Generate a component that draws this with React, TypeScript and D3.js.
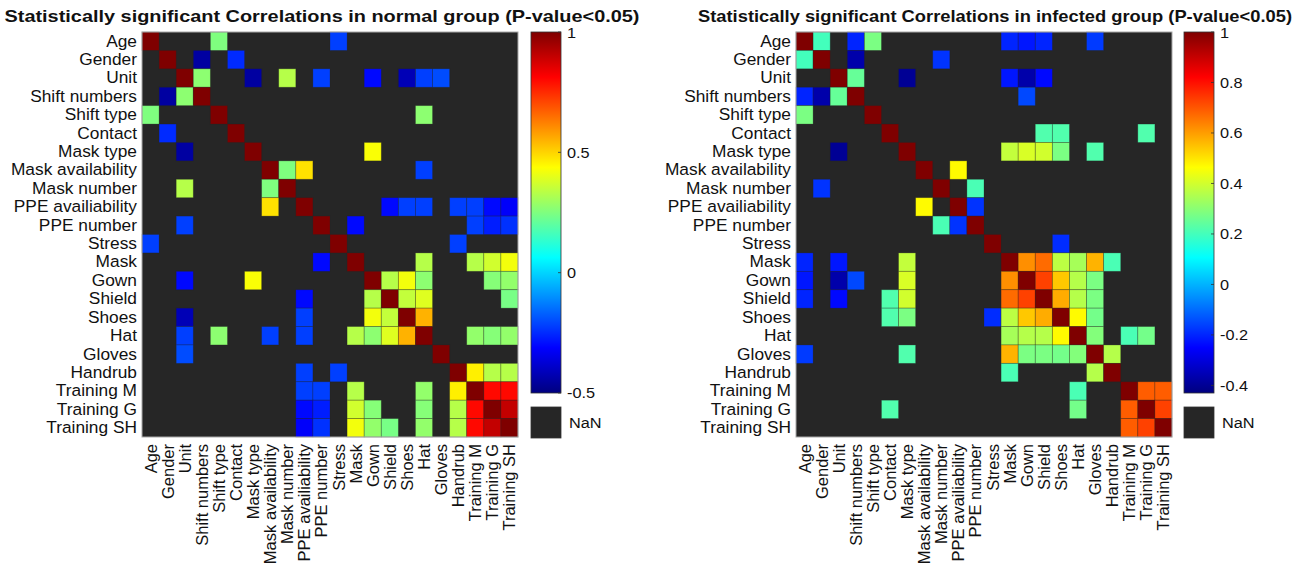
import * as d3 from "d3";

// variable names, same order on both axes
const labels = [
  "Age", "Gender", "Unit", "Shift numbers", "Shift type", "Contact", "Mask type",
  "Mask availability", "Mask number", "PPE availiability", "PPE number", "Stress",
  "Mask", "Gown", "Shield", "Shoes", "Hat", "Gloves", "Handrub",
  "Training M", "Training G", "Training SH",
];

// significant correlations, upper triangle [row, col, r]; matrix is symmetric, diagonal = 1
const normalPairs: [number, number, number][] = [
  [0, 4, 0.25], [0, 11, -0.22],
  [1, 3, -0.45], [1, 5, -0.25],
  [2, 3, 0.27], [2, 6, -0.45], [2, 8, 0.33], [2, 10, -0.22], [2, 13, -0.3],
  [2, 15, -0.42], [2, 16, -0.22], [2, 17, -0.2],
  [4, 16, 0.27],
  [6, 13, 0.43],
  [7, 8, 0.25], [7, 9, 0.48], [7, 16, -0.22],
  [9, 14, -0.3], [9, 15, -0.22], [9, 16, -0.22], [9, 18, -0.22], [9, 19, -0.22],
  [9, 20, -0.3], [9, 21, -0.32],
  [10, 12, -0.3], [10, 19, -0.22], [10, 20, -0.27], [10, 21, -0.24],
  [11, 18, -0.22],
  [12, 16, 0.33], [12, 19, 0.33], [12, 20, 0.37], [12, 21, 0.42],
  [13, 14, 0.33], [13, 15, 0.42], [13, 16, 0.27], [13, 20, 0.26], [13, 21, 0.28],
  [14, 15, 0.35], [14, 16, 0.39], [14, 21, 0.24],
  [15, 16, 0.55],
  [16, 19, 0.28], [16, 20, 0.26], [16, 21, 0.28],
  [18, 19, 0.46], [18, 20, 0.33], [18, 21, 0.33],
  [19, 20, 0.8], [19, 21, 0.8], [20, 21, 0.9],
];

const infectedPairs: [number, number, number][] = [
  [0, 1, 0.2], [0, 3, -0.2], [0, 4, 0.28], [0, 12, -0.2], [0, 13, -0.22],
  [0, 14, -0.2], [0, 17, -0.17],
  [1, 3, -0.37], [1, 8, -0.18],
  [2, 3, 0.25], [2, 6, -0.4], [2, 12, -0.22], [2, 13, -0.37], [2, 14, -0.24],
  [3, 13, -0.15],
  [5, 14, 0.22], [5, 15, 0.22], [5, 20, 0.22],
  [6, 12, 0.38], [6, 13, 0.41], [6, 14, 0.4], [6, 15, 0.28], [6, 17, 0.22],
  [7, 9, 0.47],
  [8, 10, 0.21],
  [9, 10, -0.18],
  [11, 15, -0.19],
  [12, 13, 0.62], [12, 14, 0.67], [12, 15, 0.37], [12, 16, 0.34], [12, 17, 0.57],
  [12, 18, 0.21],
  [13, 14, 0.73], [13, 15, 0.54], [13, 16, 0.36], [13, 17, 0.28],
  [14, 15, 0.58], [14, 16, 0.36], [14, 17, 0.28],
  [15, 16, 0.47], [15, 17, 0.27],
  [16, 17, 0.29], [16, 19, 0.21], [16, 20, 0.27],
  [17, 18, 0.36],
  [19, 20, 0.69], [19, 21, 0.69],
  [20, 21, 0.73],
];

const normalTicks = [-0.5, 0, 0.5, 1];
const infectedTicks = [-0.4, -0.2, 0, 0.2, 0.4, 0.6, 0.8, 1];

const normalTitle = "Statistically significant Correlations in normal group (P-value<0.05)";
const infectedTitle = "Statistically significant Correlations in infected group (P-value<0.05)";

// MATLAB jet
const jetStops = ["#00007f", "#0000ff", "#007fff", "#00ffff", "#7fff7f", "#ffff00", "#ff7f00", "#ff0000", "#7f0000"];
const jet = d3.piecewise(d3.interpolateRgb, jetStops);

const NAN = "#262626";
const FONT = "'Liberation Sans', Arial, Helvetica, sans-serif";
const TOP = 32;
const BOTTOM = 437;

function buildMatrix(pairs: [number, number, number][]) {
  const n = labels.length;
  const m: (number | null)[][] = d3.range(n).map(() => d3.range(n).map(() => null));
  for (let i = 0; i < n; i++) m[i][i] = 1;
  pairs.forEach(([i, j, r]) => {
    m[i][j] = r;
    m[j][i] = r;
  });
  return m;
}

function Heatmap({ x0, x1, cbX, cmin, ticks, pairs, title, titleX, titleLen }: any) {
  const matrix = buildMatrix(pairs);
  const x = d3.scaleBand().domain(labels).range([x0, x1]);
  const y = d3.scaleBand().domain(labels).range([TOP, BOTTOM]);
  const color = d3.scaleSequential(jet).domain([cmin, 1]);
  const cbTop = TOP;
  const cbBottom = 393;
  const cbW = 30;
  const cb = d3.scaleLinear().domain([cmin, 1]).range([cbBottom, cbTop]);
  const gid = "grad" + x0;
  const stops = d3.range(0, 1.0001, 1 / 32);

  const cells: any[] = [];
  matrix.forEach((row, i) =>
    row.forEach((v, j) => {
      if (v === null) return;
      cells.push(
        <rect
          key={i + "-" + j}
          x={x(labels[j])}
          y={y(labels[i])}
          width={x.bandwidth()}
          height={y.bandwidth()}
          fill={color(v)}
          stroke="rgba(38,38,38,0.35)"
          strokeWidth={0.8}
        />
      );
    })
  );

  return (
    <g fontFamily={FONT}>
      <text
        x={titleX}
        y={22}
        textAnchor="middle"
        fontWeight="bold"
        fontSize={17}
        textLength={titleLen}
        lengthAdjust="spacingAndGlyphs"
        fill="#111"
      >
        {title}
      </text>
      <rect x={x0} y={TOP} width={x1 - x0} height={BOTTOM - TOP} fill={NAN} />
      {cells}
      <rect x={x0} y={TOP} width={x1 - x0} height={BOTTOM - TOP} fill="none" stroke="#a8a8a8" strokeWidth={1} />
      {labels.map((l) => (
        <text
          key={"y" + l}
          transform={`translate(${x0 - 5},${y(l)! + y.bandwidth() / 2}) scale(1.05,1)`}
          textAnchor="end"
          dominantBaseline="central"
          fontSize={16.5}
          fill="#111"
        >
          {l}
        </text>
      ))}
      {labels.map((l) => (
        <text
          key={"x" + l}
          transform={`translate(${x(l)! + x.bandwidth() / 2},${BOTTOM + 7}) rotate(-90)`}
          textAnchor="end"
          dominantBaseline="central"
          fontSize={16.5}
          fill="#111"
        >
          {l}
        </text>
      ))}
      <defs>
        <linearGradient id={gid} x1="0" y1="1" x2="0" y2="0">
          {stops.map((t) => (
            <stop key={t} offset={t} stopColor={jet(t)} />
          ))}
        </linearGradient>
      </defs>
      <rect x={cbX} y={cbTop} width={cbW} height={cbBottom - cbTop} fill={`url(#${gid})`} stroke="#333" strokeWidth={0.8} />
      {ticks.map((t: number) => (
        <g key={"t" + t}>
          <line x1={cbX + cbW - 3} x2={cbX + cbW} y1={cb(t)} y2={cb(t)} stroke="#333" strokeWidth={0.8} />
          <text
            transform={`translate(${cbX + cbW + 6},${Math.max(cb(t), cbTop + 1)}) scale(1.05,1)`}
            dominantBaseline="central"
            fontSize={15.5}
            fill="#111"
          >
            {String(t)}
          </text>
        </g>
      ))}
      <rect x={cbX} y={407} width={cbW} height={31} fill={NAN} stroke="#333" strokeWidth={0.8} />
      <text
        transform={`translate(${cbX + cbW + 8},${423}) scale(1.05,1)`}
        dominantBaseline="central"
        fontSize={15.5}
        fill="#111"
      >
        NaN
      </text>
    </g>
  );
}

export default function App() {
  return (
    <svg
      width={1313}
      height={568}
      style={{ position: "absolute", left: 0, top: 0, background: "#fff" }}
    >
      <Heatmap
        x0={142}
        x1={518}
        cbX={531}
        cmin={-0.5}
        ticks={normalTicks}
        pairs={normalPairs}
        title={normalTitle}
        titleX={322}
        titleLen={635}
      />
      <Heatmap
        x0={796}
        x1={1172}
        cbX={1184}
        cmin={-0.43}
        ticks={infectedTicks}
        pairs={infectedPairs}
        title={infectedTitle}
        titleX={995}
        titleLen={594}
      />
    </svg>
  );
}
